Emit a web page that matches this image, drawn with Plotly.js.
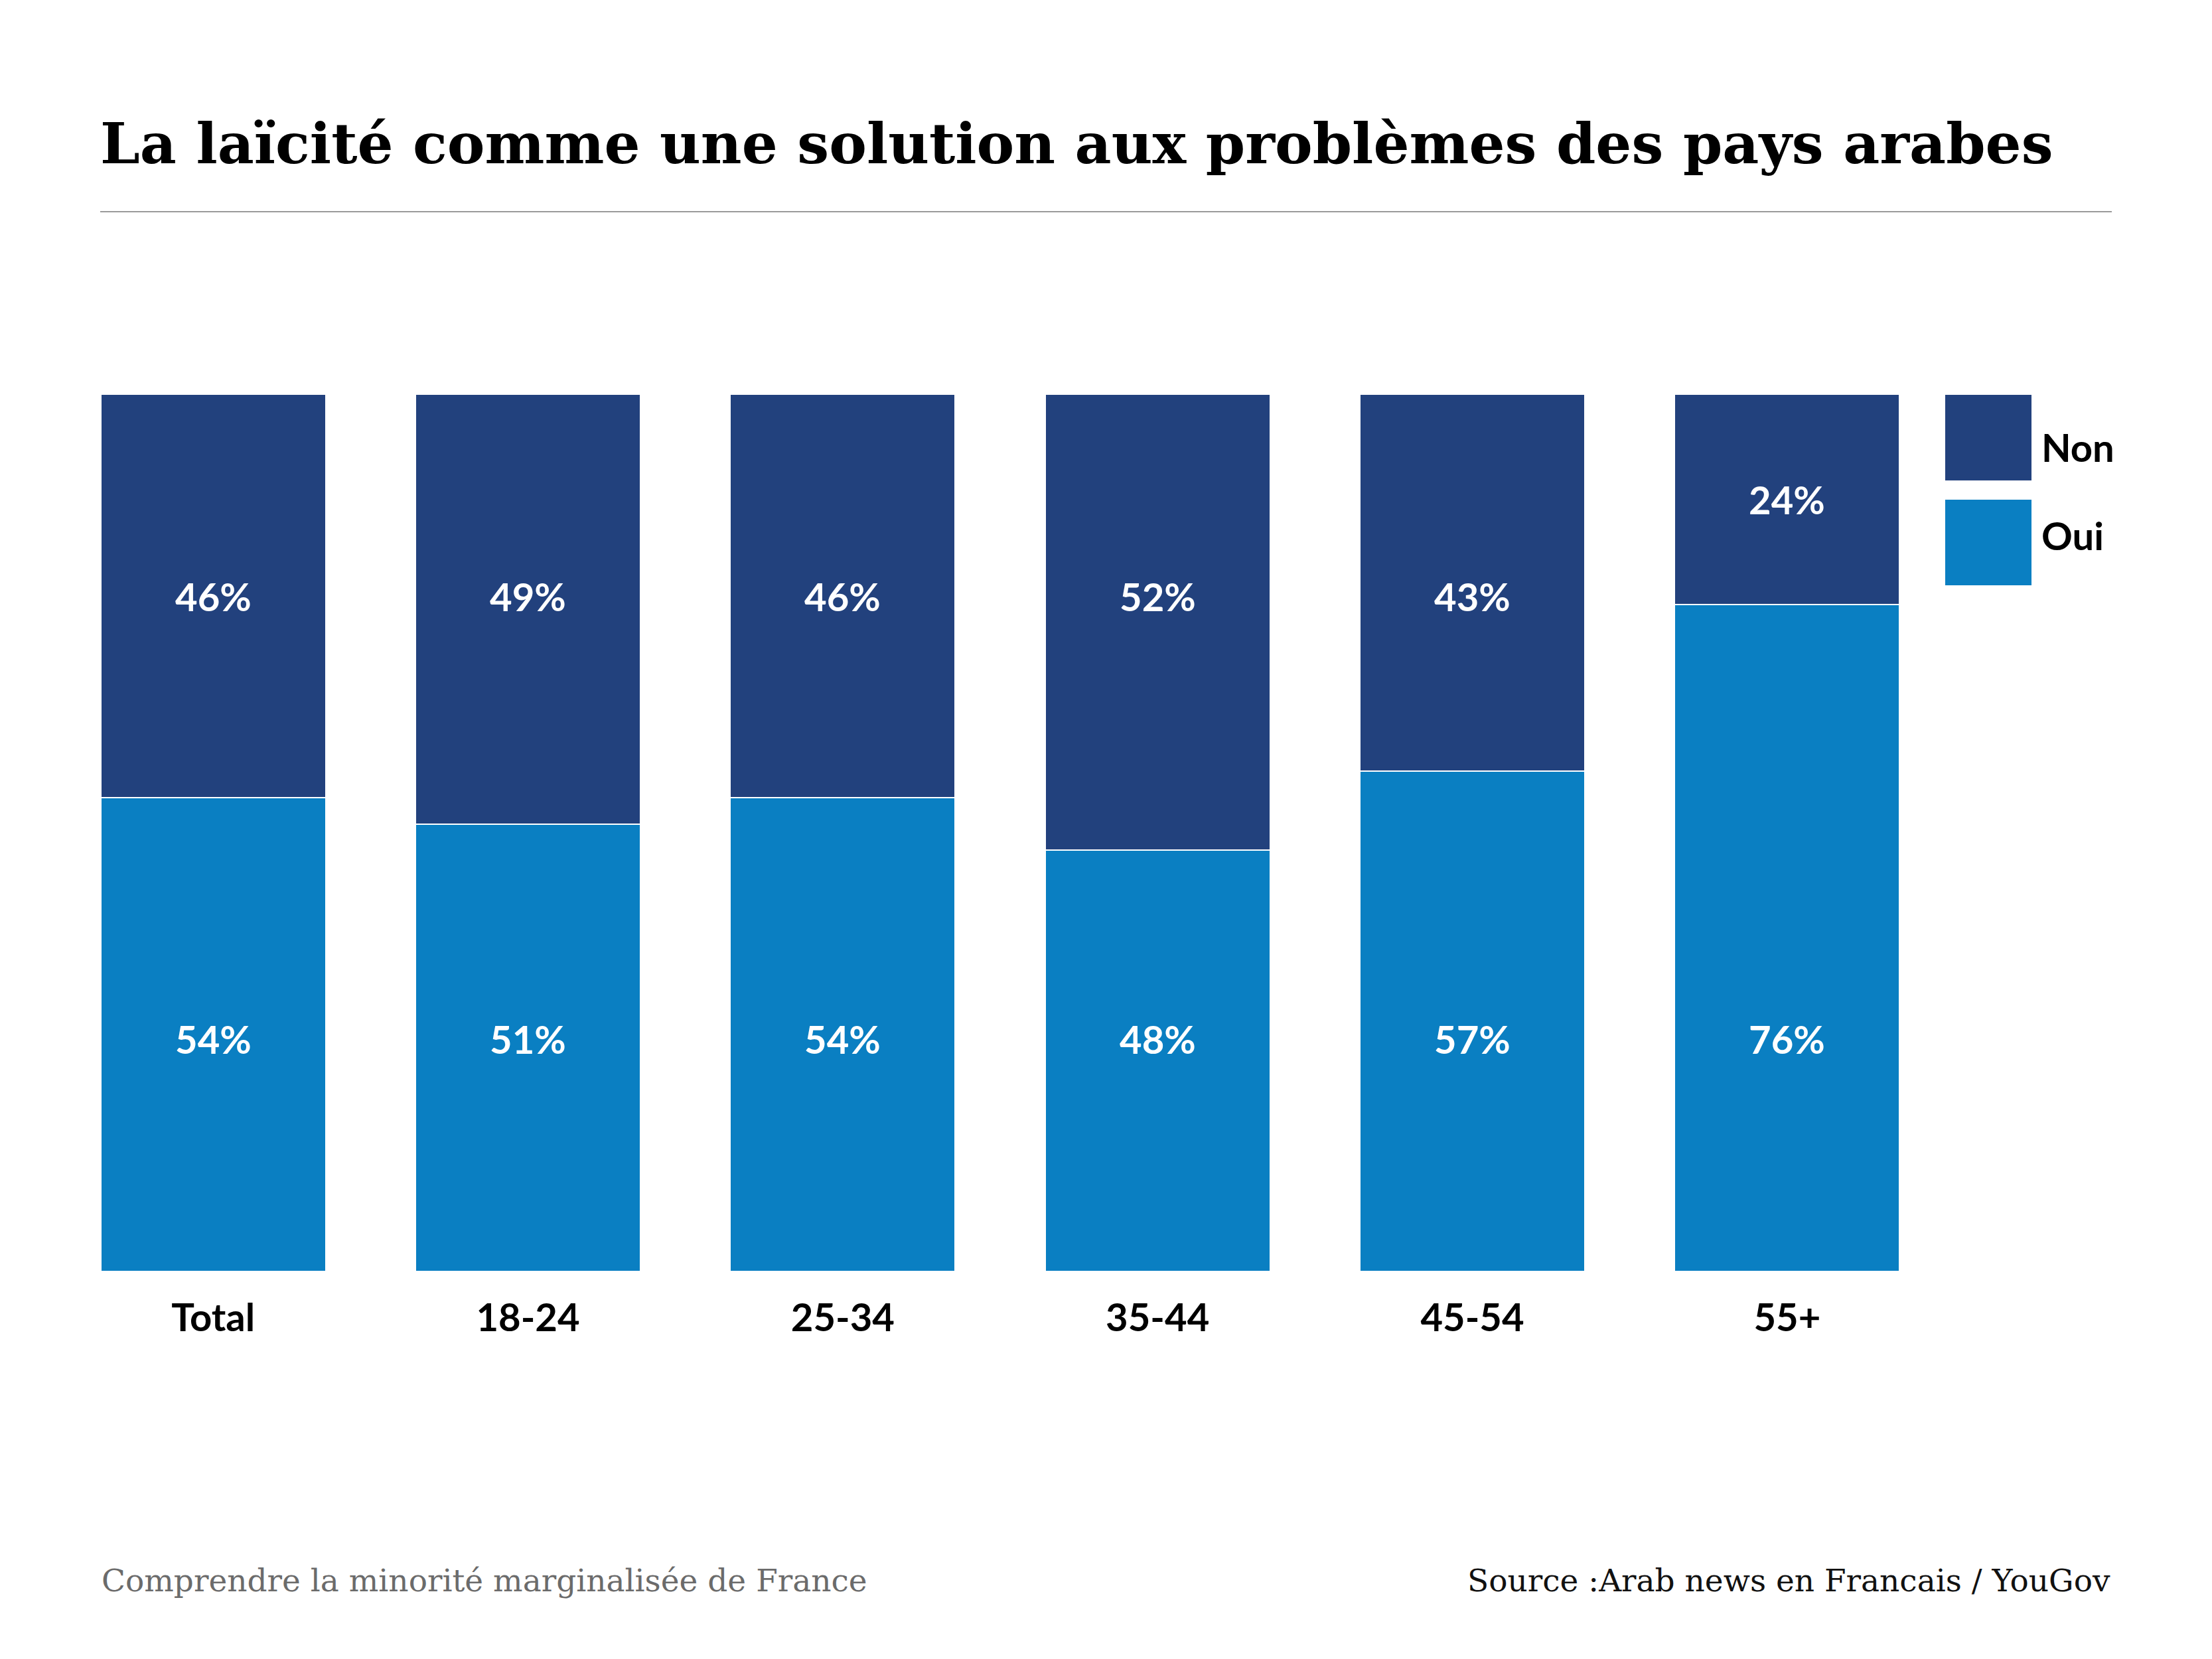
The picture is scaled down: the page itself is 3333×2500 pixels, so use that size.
<!DOCTYPE html>
<html>
<head>
<meta charset="utf-8">
<script src="https://cdn.plot.ly/plotly-3.0.1.min.js"></script>
<style>html,body{margin:0;padding:0;background:#fff;}#chart{width:3333px;height:2500px;}</style>
</head>
<body>
<div id="chart"></div>
<script>
// ---- data ----
const categories = ["Total", "18-24", "25-34", "35-44", "45-54", "55+"];
const oui = [54, 51, 54, 48, 57, 76];
const non = [46, 49, 46, 52, 43, 24];
const seriesNames = ["Oui", "Non"];
const titleText = "La laïcité comme une solution aux problèmes des pays arabes";
const footLeft = "Comprendre la minorité marginalisée de France";
const footRight = "Source :Arab news en Francais / YouGov";

// ---- styling / layout ----
const W = 3333, H = 2500;
const M = {l: 84, r: 403, t: 594, b: 584};
const PW = W - M.l - M.r, PH = H - M.t - M.b;
const px = x => (x - M.l) / PW;           // pixel -> paper x
const py = y => (H - M.b - y) / PH;       // pixel -> paper y
const colNon = "#22417D", colOui = "#0A7FC2";
const sans = "Lato, 'Noto Sans', sans-serif";
const serif = "'DejaVu Serif', 'Liberation Serif', serif";
const labelFont = {family: sans, size: 58, color: "#ffffff", weight: 700};

const barCommon = {
  type: "bar",
  x: categories,
  textposition: "none",
  hoverinfo: "none",
  showlegend: false
};
const traces = [
  Object.assign({}, barCommon, {y: oui, name: seriesNames[0], marker: {color: colOui, line: {color: "#ffffff", width: 2}}}),
  Object.assign({}, barCommon, {y: non, name: seriesNames[1], marker: {color: colNon, line: {color: "#ffffff", width: 2}}})
];

const shapes = [
  {type: "line", xref: "paper", yref: "paper", x0: px(151), x1: px(3182), y0: py(319), y1: py(319),
   line: {color: "#9a9a9a", width: 2}}
];
const annotations = [
  {xref: "paper", yref: "paper", x: px(151), y: py(2381), xanchor: "left", yanchor: "middle",
   text: footLeft, showarrow: false, font: {family: serif, size: 47, color: "#6b6b6b"}},
  {xref: "paper", yref: "paper", x: px(3182), y: py(2381), xanchor: "right", yanchor: "middle",
   text: footRight, showarrow: false, font: {family: serif, size: 47, color: "#111111"}}
];

// value labels: aligned on the first bar's segment centres when they fit, else centred in the segment
const refOui = oui[0] / 2, refNon = oui[0] + non[0] / 2, pad = 3;
const fits = (v, lo, hi) => v - pad >= lo && v + pad <= hi;
categories.forEach((c, i) => {
  const yO = fits(refOui, 0, oui[i]) ? refOui : oui[i] / 2;
  const yN = fits(refNon, oui[i], oui[i] + non[i]) ? refNon : oui[i] + non[i] / 2;
  annotations.push({x: c, y: yO, xref: "x", yref: "y", text: oui[i] + "%", showarrow: false,
    xanchor: "center", yanchor: "middle", yshift: -6, font: labelFont});
  annotations.push({x: c, y: yN, xref: "x", yref: "y", text: non[i] + "%", showarrow: false,
    xanchor: "center", yanchor: "middle", font: labelFont});
});

const legendItems = [
  {name: seriesNames[1], color: colNon, y0: 595, y1: 724, ty: 673},
  {name: seriesNames[0], color: colOui, y0: 753, y1: 882, ty: 806}
];
legendItems.forEach(it => {
  shapes.push({type: "rect", xref: "paper", yref: "paper", x0: px(2931), x1: px(3061), y0: py(it.y1), y1: py(it.y0),
    fillcolor: it.color, line: {width: 0}});
  annotations.push({xref: "paper", yref: "paper", x: px(3074), y: py(it.ty), xanchor: "left", yanchor: "middle",
    text: it.name, showarrow: false, font: {family: sans, size: 58, color: "#000000", weight: 700}});
});

const layout = {
  width: W, height: H,
  paper_bgcolor: "#ffffff", plot_bgcolor: "#ffffff",
  margin: M,
  barmode: "stack",
  bargap: 0.2854,
  title: {text: titleText, xref: "container", yref: "container", x: 151 / W, xanchor: "left",
    y: 1 - 216 / H, yanchor: "middle", font: {family: serif, size: 85, color: "#000000", weight: 700}},
  xaxis: {type: "category", showgrid: false, showline: false, zeroline: false, ticks: "",
    tickfont: {family: sans, size: 58, color: "#000000", weight: 700}, ticklabelstandoff: 31, fixedrange: true},
  yaxis: {range: [0, 100], visible: false, fixedrange: true},
  shapes: shapes,
  annotations: annotations,
  showlegend: false
};

Plotly.newPlot("chart", traces, layout, {displayModeBar: false, staticPlot: true});
</script>
</body>
</html>
